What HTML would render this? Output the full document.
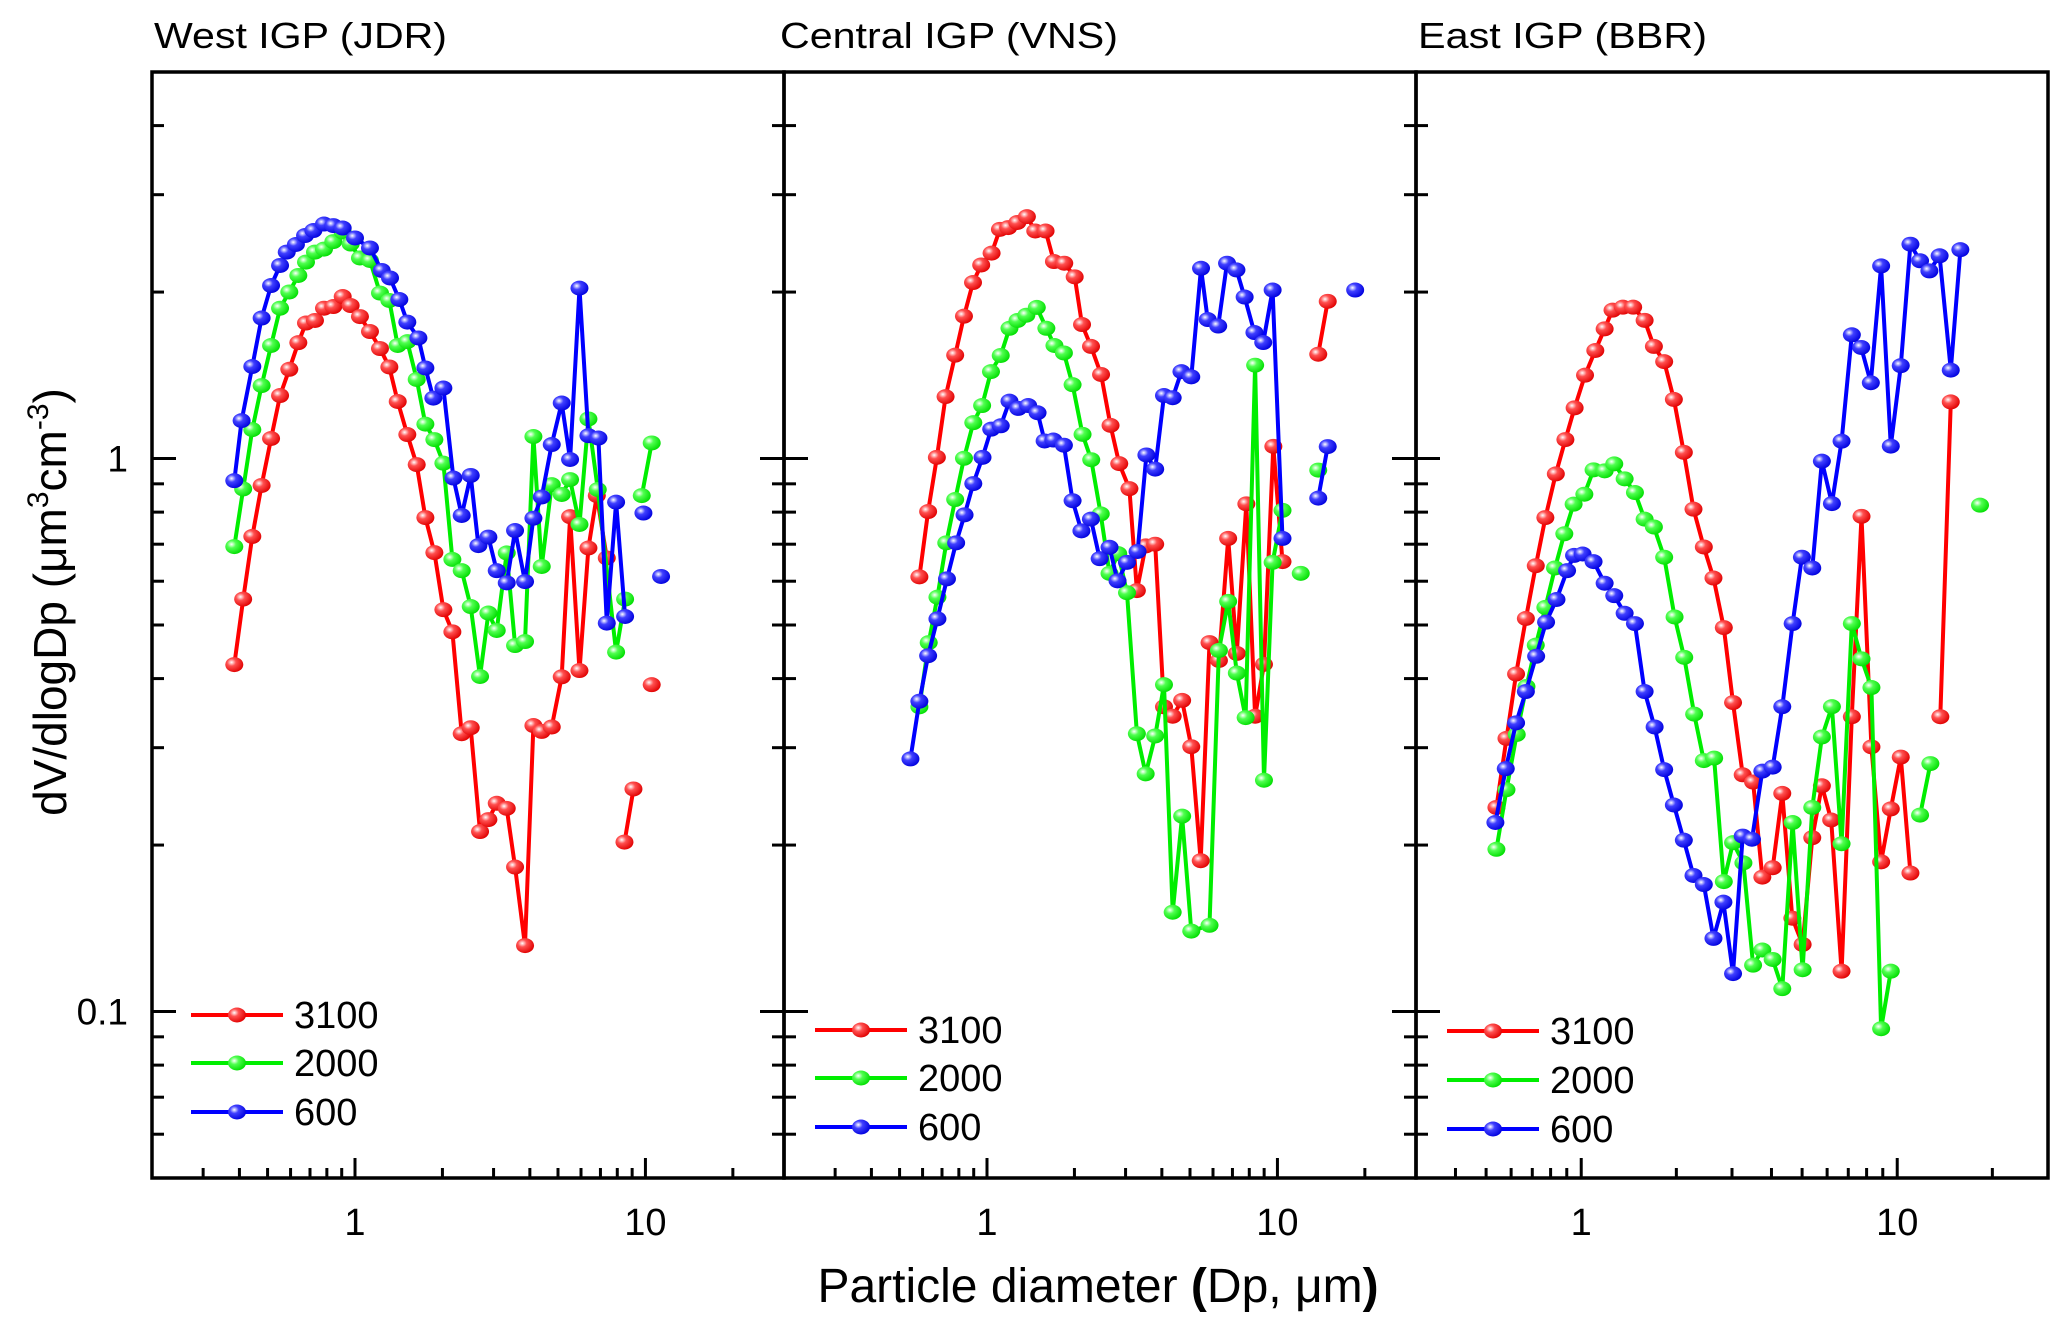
<!DOCTYPE html>
<html><head><meta charset="utf-8"><style>
html,body{margin:0;padding:0;background:#fff;}
svg{display:block;font-family:"Liberation Sans",Arial,sans-serif;}
</style></head><body>
<svg id="chart" width="2067" height="1329" viewBox="0 0 2067 1329" xmlns="http://www.w3.org/2000/svg">
<defs>
<radialGradient id="gr" cx="0.35" cy="0.35" r="0.7"><stop offset="0" stop-color="#fff"/><stop offset="0.35" stop-color="#ff5050"/><stop offset="1" stop-color="#e00000"/></radialGradient>
<radialGradient id="gg" cx="0.35" cy="0.35" r="0.7"><stop offset="0" stop-color="#fff"/><stop offset="0.35" stop-color="#50ff50"/><stop offset="1" stop-color="#00dd00"/></radialGradient>
<radialGradient id="gb" cx="0.35" cy="0.35" r="0.7"><stop offset="0" stop-color="#fff"/><stop offset="0.35" stop-color="#4040ff"/><stop offset="1" stop-color="#0000dd"/></radialGradient>
</defs>
<g id="layer"></g>
<text transform="translate(66,602) rotate(-90)" text-anchor="middle" font-size="46">dV/dlogDp (μm<tspan font-size="30" dy="-18">3</tspan><tspan dy="18">cm</tspan><tspan font-size="30" dy="-18">-3</tspan><tspan dy="18">)</tspan></text>
<text x="1098" y="1302" text-anchor="middle" font-size="48">Particle diameter <tspan font-weight="bold">(</tspan>Dp, μm<tspan font-weight="bold">)</tspan></text>
</svg>
<script>
// ---- data (x in µm, y in µm3 cm-3; null breaks the line) ----
const panelTitles = ["West IGP (JDR)", "Central IGP (VNS)", "East IGP (BBR)"];
const seriesNames = ["3100", "2000", "600"];
const yTickLabels = ["0.1", "1"];
const xTickLabels = ["1", "10"];

const p1RedX = [0.384,0.412,0.443,0.477,0.514,0.552,0.594,0.638,0.678,0.728,0.782,0.842,0.907,0.966,1.040,1.126,1.219,1.313,1.403,1.514,1.631,1.747,1.876,2.015,2.164,2.330,2.503,2.695,2.879,3.076,3.330,3.557,3.850,4.114,4.395,4.758,5.150,5.502,5.927,6.364,6.800,7.360,null,10.51,null,8.468,9.094];
const p1RedY = [0.424,0.557,0.723,0.894,1.087,1.30,1.45,1.62,1.758,1.777,1.87,1.883,1.963,1.891,1.806,1.697,1.581,1.464,1.268,1.105,0.975,0.782,0.676,0.533,0.486,0.318,0.326,0.2116,0.2224,0.238,0.233,0.1825,0.1316,0.329,0.321,0.327,0.403,0.785,0.4136,0.689,0.857,0.661,null,0.390,null,0.2025,0.2526];
const p1GreenX = [0.384,0.412,0.443,0.477,0.514,0.552,0.594,0.638,0.678,0.728,0.782,0.842,0.907,0.966,1.040,1.126,1.219,1.313,1.403,1.514,1.631,1.747,1.876,2.015,2.164,2.330,2.503,2.695,2.879,3.076,3.330,3.557,3.850,4.114,4.395,4.758,5.150,5.502,5.927,6.364,6.853,7.925,8.511,null,9.714,10.51];
const p1GreenY = [0.693,0.881,1.128,1.355,1.601,1.87,2.001,2.143,2.266,2.362,2.392,2.468,2.568,2.443,2.305,2.281,1.992,1.931,1.601,1.627,1.390,1.154,1.082,0.981,0.657,0.627,0.540,0.4035,0.5255,0.4887,0.675,0.459,0.4667,1.096,0.638,0.897,0.861,0.916,0.760,1.179,0.879,0.4467,0.557,null,0.857,1.067];
const p1BlueX = [0.384,0.407,0.443,0.477,0.514,0.552,0.582,0.626,0.673,0.719,0.782,0.842,0.907,1.0,1.126,1.236,1.320,1.421,1.514,1.653,1.747,1.861,2.015,2.182,2.330,2.503,2.660,2.879,3.076,3.330,3.557,3.850,4.114,4.395,4.758,5.150,5.502,5.927,6.364,6.889,7.360,7.925,8.511,null,9.842,null,11.32];
const p1BlueY = [0.912,1.171,1.467,1.795,2.055,2.234,2.362,2.438,2.531,2.584,2.655,2.638,2.611,2.505,2.403,2.188,2.121,1.939,1.765,1.652,1.458,1.286,1.341,0.922,0.789,0.932,0.696,0.721,0.627,0.596,0.741,0.599,0.780,0.852,1.060,1.260,0.996,2.033,1.100,1.089,0.504,0.834,0.518,null,0.797,null,0.612];

const p2RedX = [0.585,0.627,0.672,0.720,0.777,0.833,0.895,0.955,1.037,1.108,1.183,1.272,1.372,1.466,1.591,1.700,1.845,2.004,2.124,2.281,2.470,2.663,2.853,3.093,3.281,3.518,3.794,4.068,4.358,4.698,5.050,5.444,5.837,6.289,6.766,7.247,7.816,8.380,8.987,9.681,10.41,null,13.82,14.90];
const p2RedY = [0.611,0.802,1.005,1.294,1.538,1.809,2.081,2.239,2.352,2.597,2.616,2.672,2.738,2.579,2.579,2.271,2.255,2.131,1.747,1.595,1.419,1.148,0.979,0.882,0.577,0.695,0.700,0.3557,0.342,0.3653,0.3012,0.1874,0.4647,0.4313,0.717,0.4442,0.828,0.342,0.4245,1.052,0.651,null,1.544,1.924];
const p2GreenX = [0.585,0.630,0.675,0.724,0.777,0.833,0.897,0.962,1.032,1.115,1.195,1.274,1.366,1.484,1.601,1.707,1.840,1.971,2.133,2.285,2.464,2.642,2.830,3.034,3.281,3.518,3.794,4.068,4.358,4.698,5.050,5.837,6.289,6.766,7.247,7.772,8.380,8.987,9.627,10.41,null,12.03,null,13.82];
const p2GreenY = [0.3556,0.4647,0.5615,0.704,0.843,1.001,1.161,1.247,1.436,1.536,1.720,1.777,1.816,1.876,1.720,1.601,1.552,1.360,1.106,0.995,0.794,0.620,0.673,0.572,0.318,0.269,0.315,0.390,0.1512,0.2256,0.1398,0.1432,0.4498,0.5516,0.4094,0.340,1.475,0.262,0.649,0.806,null,0.620,null,0.953];
const p2BlueX = [0.545,0.585,0.627,0.675,0.728,0.783,0.837,0.897,0.965,1.034,1.115,1.195,1.281,1.386,1.493,1.579,1.692,1.840,1.971,2.114,2.279,2.443,2.642,2.815,3.034,3.299,3.538,3.794,4.068,4.358,4.672,5.050,5.457,5.754,6.254,6.707,7.226,7.711,8.333,8.935,9.627,10.41,null,13.82,14.90,null,18.52];
const p2BlueY = [0.2863,0.364,0.440,0.513,0.606,0.704,0.791,0.901,1.005,1.130,1.146,1.270,1.232,1.247,1.210,1.076,1.080,1.057,0.839,0.740,0.777,0.659,0.691,0.601,0.649,0.679,1.015,0.957,1.300,1.288,1.436,1.405,2.208,1.784,1.736,2.255,2.193,1.959,1.690,1.621,2.017,0.717,null,0.848,1.051,null,2.017];

const p3RedX = [0.539,0.580,0.622,0.668,0.718,0.770,0.831,0.891,0.953,1.028,1.108,1.186,1.256,1.354,1.460,1.587,1.698,1.830,1.964,2.112,2.266,2.443,2.621,2.826,3.023,3.243,3.498,3.742,4.035,4.327,4.656,5.019,5.384,5.775,6.180,6.665,7.184,7.709,8.287,8.894,9.541,10.26,11.01,null,13.69,14.77];
const p3RedY = [0.2339,0.3118,0.4077,0.5137,0.640,0.782,0.938,1.082,1.235,1.415,1.568,1.716,1.855,1.878,1.878,1.778,1.595,1.497,1.279,1.026,0.810,0.692,0.608,0.4946,0.362,0.268,0.260,0.175,0.182,0.248,0.1475,0.1322,0.2062,0.256,0.222,0.1183,0.3413,0.786,0.301,0.1865,0.2325,0.2885,0.178,null,0.3413,1.266];
const p3GreenX = [0.539,0.580,0.625,0.671,0.718,0.770,0.826,0.884,0.946,1.023,1.094,1.186,1.272,1.372,1.479,1.587,1.698,1.830,1.974,2.118,2.277,2.443,2.634,2.826,3.023,3.260,3.498,3.742,4.035,4.327,4.667,5.019,5.384,5.775,6.213,6.665,7.184,7.709,8.287,8.894,9.541,null,11.81,12.73,null,18.28];
const p3GreenY = [0.1965,0.2518,0.317,0.387,0.4597,0.538,0.634,0.731,0.827,0.862,0.954,0.950,0.978,0.919,0.868,0.777,0.752,0.663,0.517,0.437,0.345,0.2843,0.2873,0.1718,0.202,0.1857,0.1213,0.1292,0.1242,0.110,0.2197,0.119,0.2339,0.3137,0.3559,0.2011,0.503,0.4343,0.3854,0.0931,0.1183,null,0.2266,0.2808,null,0.8235];
const p3BlueX = [0.535,0.577,0.622,0.668,0.720,0.774,0.835,0.902,0.949,1.010,1.094,1.186,1.272,1.372,1.479,1.587,1.707,1.830,1.964,2.112,2.266,2.443,2.621,2.818,3.023,3.243,3.470,3.742,4.035,4.327,4.667,4.993,5.384,5.775,6.213,6.665,7.184,7.692,8.250,8.894,9.541,10.26,11.01,11.81,12.64,13.62,14.77,15.84];
const p3BlueY = [0.2197,0.2749,0.3327,0.379,0.4389,0.506,0.556,0.627,0.668,0.672,0.651,0.595,0.565,0.525,0.503,0.379,0.327,0.2738,0.2363,0.2041,0.1762,0.1697,0.1356,0.1577,0.1171,0.2076,0.2049,0.2721,0.2767,0.3559,0.503,0.663,0.634,0.989,0.829,1.075,1.674,1.588,1.371,2.230,1.053,1.472,2.441,2.278,2.184,2.326,1.445,2.386];

// ---- layout ----
const NS = "http://www.w3.org/2000/svg";
const layer = document.getElementById('layer');
const TOP = 72, BOT = 1178, PW = 632;
const Y_MIN = 0.05, Y_MAX = 5;
const panels = [
  {x0:152, tx:154, tw:293, xmin:0.2, xmax:30, legY:[1015,1063,1112], legX:191, data:[[p1RedX,p1RedY],[p1GreenX,p1GreenY],[p1BlueX,p1BlueY]], rightTicks:true},
  {x0:784, tx:780, tw:338, xmin:0.2, xmax:30, legY:[1030,1078,1127], legX:815, data:[[p2RedX,p2RedY],[p2GreenX,p2GreenY],[p2BlueX,p2BlueY]], rightTicks:true},
  {x0:1416, tx:1418, tw:289, xmin:0.3, xmax:30, legY:[1031,1080,1129], legX:1447, data:[[p3RedX,p3RedY],[p3GreenX,p3GreenY],[p3BlueX,p3BlueY]], rightTicks:false}
];
const colors = ["#ff0000","#00ee00","#0000ff"];
const grads = ["url(#gr)","url(#gg)","url(#gb)"];
const keys = ["red","green","blue"];

function yScale(v){ return BOT - (Math.log10(v)-Math.log10(Y_MIN))/(Math.log10(Y_MAX)-Math.log10(Y_MIN))*(BOT-TOP); }
function mk(tag, attrs){ const e=document.createElementNS(NS,tag); for(const k in attrs) e.setAttribute(k,attrs[k]); return e; }

function marker(g, cx, cy, i){
  const c = mk('ellipse',{cx:cx,cy:cy,rx:9,ry:7.5,fill:grads[i]});
  
  
  g.appendChild(c);
}

panels.forEach((p, pi) => {
  const xScale = v => p.x0 + (Math.log10(v)-Math.log10(p.xmin))/(Math.log10(p.xmax)-Math.log10(p.xmin))*PW;
  const g = mk('g',{});
  
  
  layer.appendChild(g);

  const t = mk('text',{x:p.tx, y:48, 'font-size':36, textLength:p.tw, lengthAdjust:'spacingAndGlyphs'});
  t.textContent = panelTitles[pi];
  
  
  g.appendChild(t);

  const yt = [0.06,0.07,0.08,0.09,0.1,0.2,0.3,0.4,0.5,0.6,0.7,0.8,0.9,1,2,3,4];
  yt.forEach(v => {
    const major = (v===0.1||v===1);
    const L = major?24:12, y=yScale(v);
    const l1 = mk('line',{x1:p.x0,x2:p.x0+L,y1:y,y2:y,stroke:'#000','stroke-width':3});
    
    
    g.appendChild(l1);
    if(p.rightTicks){
      const l2 = mk('line',{x1:p.x0+PW,x2:p.x0+PW-L,y1:y,y2:y,stroke:'#000','stroke-width':3});
      
      
      g.appendChild(l2);
    }
  });
  if(pi===0){
    [0.1,1].forEach((v,k)=>{
      const tl = mk('text',{x:p.x0-24,y:yScale(v)+13,'font-size':37,'text-anchor':'end'});
      tl.textContent = yTickLabels[k];
      
      
      g.appendChild(tl);
    });
  }
  const xt = [];
  [0.1,1,10].forEach(d=>{ for(let m=1;m<10;m++){ const v=d*m; if(v>p.xmin*1.001 && v<p.xmax*0.999) xt.push(v);} });
  xt.forEach(v=>{
    const major = (Math.abs(v-1)<1e-9||Math.abs(v-10)<1e-9);
    const L = major?20:10, x=xScale(v);
    const l = mk('line',{x1:x,x2:x,y1:BOT,y2:BOT-L,stroke:'#000','stroke-width':3});
    
    
    g.appendChild(l);
  });
  [1,10].forEach((v,k)=>{
    const tl = mk('text',{x:xScale(v),y:1235,'font-size':38,'text-anchor':'middle'});
    tl.textContent = xTickLabels[k];
    
    
    g.appendChild(tl);
  });
  const fr = mk('rect',{x:p.x0,y:TOP,width:PW,height:BOT-TOP,fill:'none',stroke:'#000','stroke-width':3.5});
  
  
  g.appendChild(fr);

  p.data.forEach((s, si) => {
    const [xs, ys] = s;
    const sg = mk('g',{});
    
    
    g.appendChild(sg);
    let d = '', pen = false;
    for(let i=0;i<xs.length;i++){
      if(xs[i]===null||ys[i]===null){ pen=false; continue; }
      d += (pen?'L':'M') + xScale(xs[i]).toFixed(1) + ' ' + yScale(ys[i]).toFixed(1) + ' ';
      pen = true;
    }
    const path = mk('path',{d:d,fill:'none',stroke:colors[si],'stroke-width':4,'stroke-linejoin':'round'});
    
    
    sg.appendChild(path);
    for(let i=0;i<xs.length;i++){
      if(xs[i]===null||ys[i]===null) continue;
      marker(sg, xScale(xs[i]), yScale(ys[i]), si);
    }
  });

  seriesNames.forEach((n, si) => {
    const lg = mk('g',{});
    
    
    g.appendChild(lg);
    const y = p.legY[si];
    lg.appendChild(mk('line',{x1:p.legX,x2:p.legX+92,y1:y,y2:y,stroke:colors[si],'stroke-width':4}));
    marker(lg, p.legX+46, y, si);
    const tx = mk('text',{x:p.legX+103,y:y+13,'font-size':38});
    tx.textContent = n;
    lg.appendChild(tx);
  });
});
</script>
</body></html>
